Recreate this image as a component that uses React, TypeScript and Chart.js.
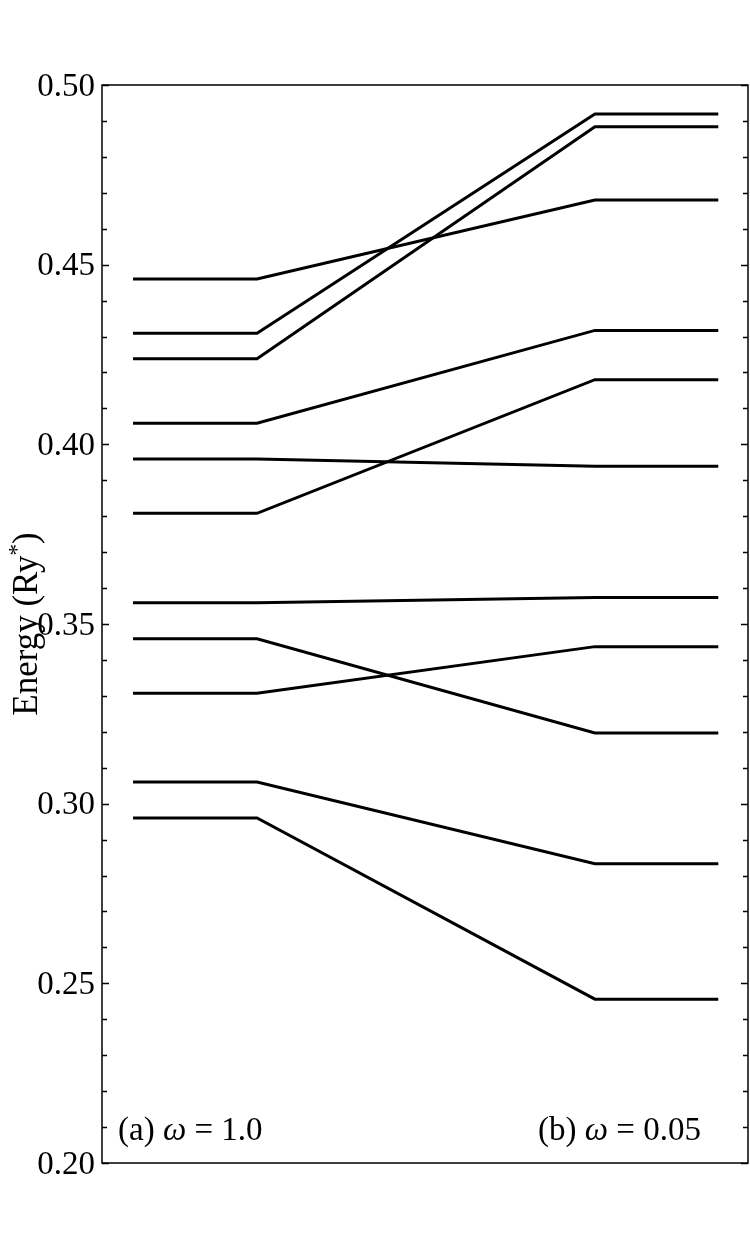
import React, { useEffect, useRef } from "react";
import { Chart, registerables } from "chart.js";

Chart.register(...registerables);

// x positions of the level diagram: left flat (ω=1.0), connector, right flat (ω=0.05)
const levelX = [0.048, 0.24, 0.763, 0.954];

// Energies at ω = 1.0 (left) and ω = 0.05 (right), paired by state
const energyOmega1 = [0.446, 0.4309, 0.4238, 0.4059, 0.3959, 0.3808, 0.3559, 0.3459, 0.3307, 0.306, 0.296];
const energyOmega005 = [0.468, 0.4919, 0.4884, 0.4317, 0.3939, 0.418, 0.3574, 0.3197, 0.3437, 0.2833, 0.2456];

const yMin = 0.2;
const yMax = 0.5;
const yStep = 0.01;
const majorEvery = 5;

const labelA = ["(a) ", "ω", " = 1.0"];
const labelB = ["(b) ", "ω", " = 0.05"];
const yTitle = ["Energy (Ry", "*", ")"];

const SERIF = "'Liberation Serif', 'DejaVu Serif', serif";

function drawMixed(ctx: CanvasRenderingContext2D, parts: string[], x: number, y: number, size: number) {
  let cx = x;
  parts.forEach((p, i) => {
    ctx.font = (i === 1 ? "italic " : "") + size + "px " + SERIF;
    ctx.fillText(p, cx, y);
    cx += ctx.measureText(p).width;
  });
}

const framePlugin = {
  id: "frameAndTicks",
  afterDraw(chart: any) {
    const { ctx, chartArea } = chart;
    const y = chart.scales.y;
    const { left, right, top, bottom } = chartArea;
    ctx.save();
    ctx.strokeStyle = "#000";
    ctx.lineWidth = 1.5;
    ctx.strokeRect(left, top, right - left, bottom - top);
    ctx.lineWidth = 1.5;
    y.ticks.forEach((t: any) => {
      const idx = Math.round((t.value - yMin) / yStep);
      const len = idx % majorEvery === 0 ? 7 : 5;
      const py = Math.round(y.getPixelForValue(t.value)) + 0.5;
      ctx.beginPath();
      ctx.moveTo(left, py);
      ctx.lineTo(left + len, py);
      ctx.moveTo(right, py);
      ctx.lineTo(right - len, py);
      ctx.stroke();
    });
    // axis title with superscript
    ctx.fillStyle = "#000";
    ctx.textBaseline = "alphabetic";
    const size = 35;
    const supSize = Math.round(size * 0.65);
    ctx.font = size + "px " + SERIF;
    const w0 = ctx.measureText(yTitle[0]).width;
    ctx.font = supSize + "px " + SERIF;
    const w1 = ctx.measureText(yTitle[1]).width;
    ctx.font = size + "px " + SERIF;
    const w2 = ctx.measureText(yTitle[2]).width;
    const total = w0 + w1 + w2;
    ctx.translate(37, 624);
    ctx.rotate(-Math.PI / 2);
    let cx = -total / 2;
    ctx.font = size + "px " + SERIF;
    ctx.fillText(yTitle[0], cx, 0);
    cx += w0;
    ctx.font = supSize + "px " + SERIF;
    ctx.fillText(yTitle[1], cx, -size * 0.38);
    cx += w1;
    ctx.font = size + "px " + SERIF;
    ctx.fillText(yTitle[2], cx, 0);
    ctx.setTransform(1, 0, 0, 1, 0, 0);
    // panel labels
    const baseY = bottom - 23;
    drawMixed(ctx, labelA, left + 16, baseY, 33);
    drawMixed(ctx, labelB, left + 436, baseY, 33);
    ctx.restore();
  },
};

export default function App() {
  const ref = useRef<HTMLCanvasElement | null>(null);
  useEffect(() => {
    if (!ref.current) return;
    const datasets = energyOmega1.map((e1, i) => ({
      data: [
        { x: levelX[0], y: e1 },
        { x: levelX[1], y: e1 },
        { x: levelX[2], y: energyOmega005[i] },
        { x: levelX[3], y: energyOmega005[i] },
      ],
      borderColor: "#000",
      borderWidth: 3,
      pointRadius: 0,
      fill: false,
      tension: 0,
      borderCapStyle: "butt" as const,
      borderJoinStyle: "miter" as const,
    }));
    const chart = new Chart(ref.current, {
      type: "line",
      data: { datasets },
      options: {
        animation: false,
        responsive: false,
        maintainAspectRatio: false,
        layout: { padding: { left: 0, right: 2, top: 85, bottom: 87 } },
        plugins: { legend: { display: false }, tooltip: { enabled: false } },
        scales: {
          x: { type: "linear", min: 0, max: 1, display: false },
          y: {
            type: "linear",
            min: yMin,
            max: yMax,
            afterFit(scale: any) {
              scale.width = 102;
            },
            grid: { display: false, drawTicks: false },
            border: { display: false },
            ticks: {
              stepSize: yStep,
              autoSkip: false,
              padding: 7,
              labelOffset: 2,
              color: "#000",
              font: { family: SERIF, size: 33 },
              callback(v: any) {
                const idx = Math.round((Number(v) - yMin) / yStep);
                return idx % majorEvery === 0 ? Number(v).toFixed(2) : "";
              },
            },
          },
        },
      },
      plugins: [framePlugin],
    });
    return () => chart.destroy();
  }, []);
  return (
    <div style={{ position: "absolute", left: 0, top: 0, width: 750, height: 1250, background: "#fff" }}>
      <canvas ref={ref} width={750} height={1250} style={{ width: 750, height: 1250 }} />
    </div>
  );
}
